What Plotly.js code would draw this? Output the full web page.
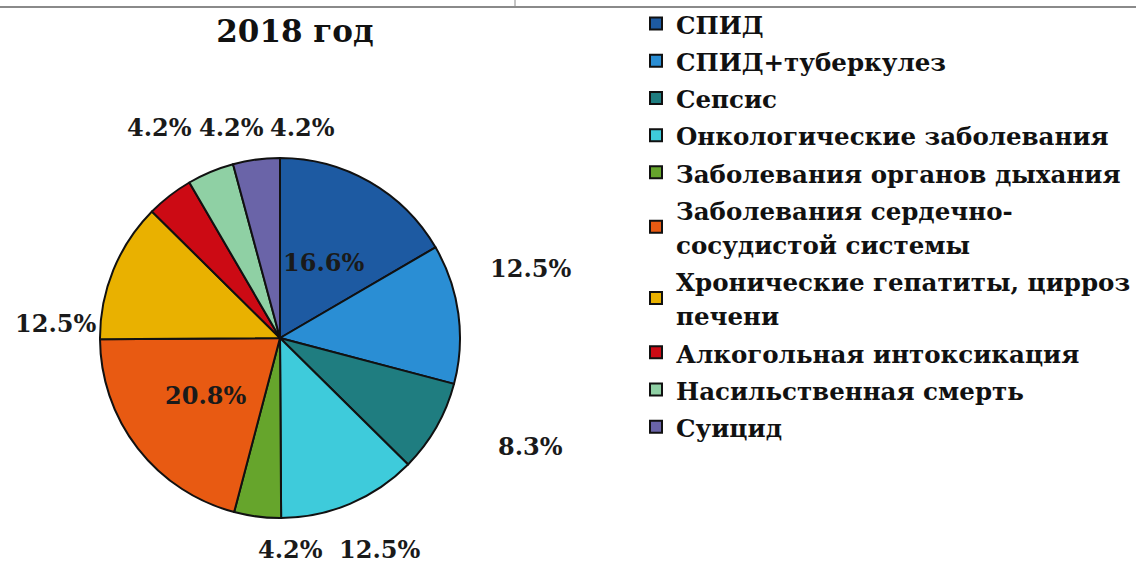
<!DOCTYPE html>
<html>
<head>
<meta charset="utf-8">
<script src="https://cdn.plot.ly/plotly-3.0.1.min.js"></script>
<style>html,body{margin:0;padding:0;background:#fff;}#chart{width:1136px;height:564px;}</style>
</head>
<body>
<div id="chart"></div>
<script>
// ---- data ----
const categories = [
  "СПИД",
  "СПИД+туберкулез",
  "Сепсис",
  "Онкологические заболевания",
  "Заболевания органов дыхания",
  "Заболевания сердечно-<br>сосудистой системы",
  "Хронические гепатиты, цирроз<br>печени",
  "Алкогольная интоксикация",
  "Насильственная смерть",
  "Суицид"
];
const shares = [16.6, 12.5, 8.3, 12.5, 4.2, 20.8, 12.5, 4.2, 4.2, 4.2];
const chartTitle = "2018 год";

// ---- styles ----
const colors = ["#1d5aa2", "#2a8ed4", "#1f7d80", "#3ecbdb", "#66a52c",
                "#e85a12", "#e9b100", "#cc0a14", "#8fd0a4", "#6a64a8"];
// label positions (paper px) for each slice's percentage text
const labelPx = [[323, 262], [530, 268], [530, 446], [379, 549], [290, 549],
                 [205, 395], [56, 323], [159, 127], [231, 127], [302, 127]];

const W = 1136, H = 564;
const serif = "DejaVu Serif";
const legendTextPx = 24.5;

const annotations = shares.map((v, i) => ({
  xref: "paper", yref: "paper",
  x: labelPx[i][0] / W, y: 1 - labelPx[i][1] / H,
  xanchor: "center", yanchor: "middle",
  text: "<b>" + v.toFixed(1) + "%</b>",
  showarrow: false,
  font: {family: serif, size: 24, color: "#1a1a1a"}
}));

const legendLabels = categories.map(c =>
  c.split("<br>").map(part =>
    '<span style="font-size:' + legendTextPx + 'px"><b>' + part + "</b></span>").join("<br>"));

const trace = {
  type: "pie",
  labels: legendLabels,
  values: shares,
  sort: false,
  direction: "clockwise",
  rotation: 0,
  textinfo: "none",
  hoverinfo: "label+value",
  marker: {colors: colors, line: {color: "#111111", width: 2}},
  domain: {x: [100 / W, 460 / W], y: [46 / H, 406 / H]}
};

const layout = {
  width: W, height: H,
  margin: {l: 0, r: 0, t: 0, b: 0},
  paper_bgcolor: "#ffffff",
  font: {family: serif},
  title: {
    text: "<b>" + chartTitle + "</b>",
    x: 295 / W, xanchor: "center",
    y: 1 - 31 / H, yanchor: "middle",
    font: {family: serif, size: 31, color: "#111111"}
  },
  showlegend: true,
  legend: {
    x: 636 / W, xanchor: "left",
    y: 1, yanchor: "top",
    font: {family: serif, size: 26.3, color: "#111111"},
    bgcolor: "rgba(0,0,0,0)",
    valign: "middle"
  },
  annotations: annotations,
  shapes: [
    {type: "line", xref: "paper", yref: "paper", x0: 0, x1: 1, y0: 1 - 7 / H, y1: 1 - 7 / H,
     line: {color: "#8a8a8a", width: 2}},
    {type: "line", xref: "paper", yref: "paper", x0: 515 / W, x1: 515 / W, y0: 1 - 7 / H, y1: 1,
     line: {color: "#8a8a8a", width: 1}}
  ]
};

Plotly.newPlot("chart", [trace], layout, {displayModeBar: false, staticPlot: true});
</script>
</body>
</html>
